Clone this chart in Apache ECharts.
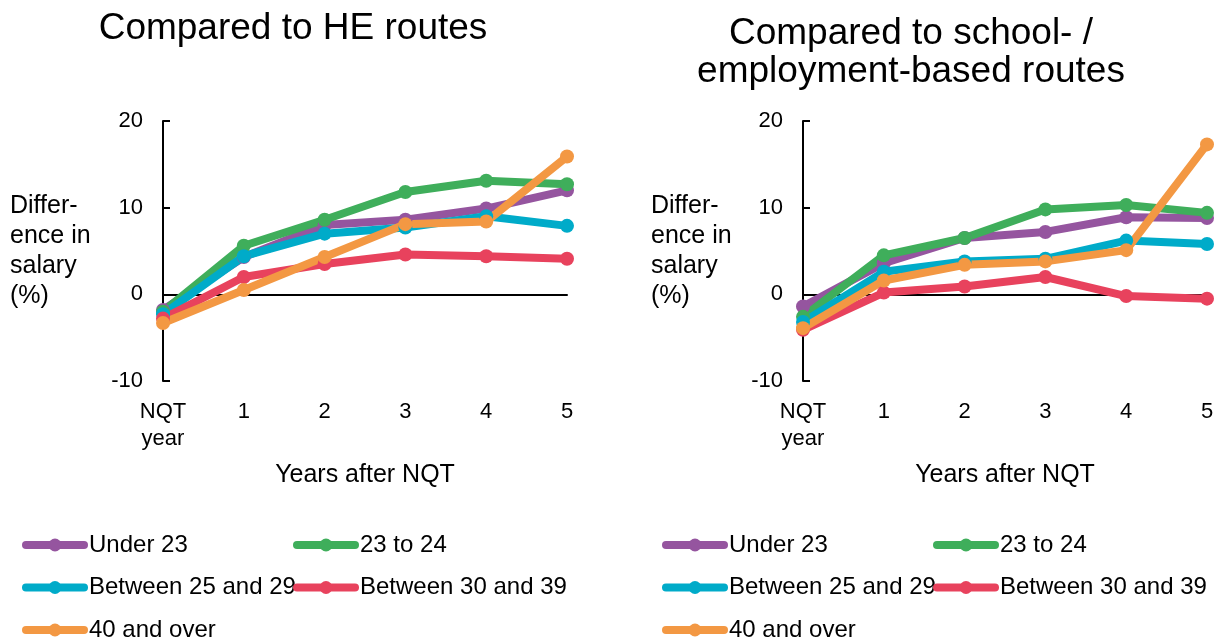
<!DOCTYPE html>
<html>
<head>
<meta charset="utf-8">
<script src="https://cdn.jsdelivr.net/npm/echarts@6/dist/echarts.min.js"></script>
<style>
  html, body { margin: 0; padding: 0; background: #fff; }
  #chart { width: 1222px; height: 640px; }
</style>
</head>
<body>
<div id="chart"></div>
<script>
var categories = ['NQT\nyear', '1', '2', '3', '4', '5'];
var seriesNames = ['Under 23', '23 to 24', 'Between 25 and 29', 'Between 30 and 39', '40 and over'];
var colors = ['#95559f', '#3fae5b', '#00abc9', '#e8425d', '#f39843'];

// compared to HE routes
var heUnder23 = [-1.8, 4.3, 8.0, 8.6, 9.9, 12.0];
var he23to24 = [-2.0, 5.6, 8.6, 11.8, 13.1, 12.7];
var he25to29 = [-2.3, 4.4, 7.0, 7.7, 9.0, 7.9];
var he30to39 = [-2.8, 2.0, 3.5, 4.6, 4.4, 4.1];
var he40over = [-3.3, 0.5, 4.3, 8.1, 8.4, 15.9];

// compared to school- / employment-based routes
var schUnder23 = [-1.4, 3.6, 6.5, 7.2, 8.9, 8.8];
var sch23to24 = [-2.6, 4.5, 6.5, 9.8, 10.3, 9.4];
var sch25to29 = [-3.2, 2.6, 3.8, 4.1, 6.2, 5.8];
var sch30to39 = [-4.1, 0.2, 0.9, 2.0, -0.2, -0.5];
var sch40over = [-3.9, 1.6, 3.4, 3.8, 5.1, 17.3];

var yTicks = [-10, 0, 10, 20];

var FONT = 'Liberation Sans, Arial, sans-serif';
var chart = echarts.init(document.getElementById('chart'));

function labelAxis(grid) {
  return {
    type: 'category',
    gridIndex: grid,
    data: categories,
    boundaryGap: false,
    axisLine: { show: false, onZero: false },
    axisTick: { show: false },
    axisLabel: { fontSize: 22, lineHeight: 27, color: '#000', fontFamily: FONT, margin: 17 },
    name: 'Years after NQT',
    nameLocation: 'middle',
    nameGap: 82,
    nameTextStyle: { fontSize: 25, color: '#000', fontFamily: FONT }
  }
}

function zeroAxis(grid) {
  return {
    type: 'category',
    gridIndex: grid,
    data: categories,
    boundaryGap: false,
    axisLine: { show: true, onZero: true, lineStyle: { color: '#000', width: 2 } },
    axisTick: { show: false },
    axisLabel: { show: false }
  }
}

function valueAxis(grid) {
  return {
    type: 'value',
    gridIndex: grid,
    min: yTicks[0],
    max: yTicks[yTicks.length - 1],
    interval: 10,
    splitLine: { show: false },
    axisLine: { show: true, lineStyle: { color: '#000', width: 2 } },
    axisTick: { show: true, inside: true, length: 7, lineStyle: { color: '#000', width: 2 } },
    axisLabel: { fontSize: 22, color: '#000', fontFamily: FONT, margin: 20 }
  }
}

function makeSeries(data, idx, grid) {
  return {
    name: seriesNames[idx],
    type: 'line',
    xAxisIndex: grid * 2,
    yAxisIndex: grid,
    data: data,
    color: colors[idx],
    symbol: 'circle',
    symbolSize: 14,
    lineStyle: { width: 8, color: colors[idx], cap: 'round', join: 'round' },
    itemStyle: { color: colors[idx] },
    animation: false
  }
}

function legend(left, names) {
  return {
    orient: 'vertical',
    left: left,
    top: 533,
    height: 140,
    padding: 0,
    itemWidth: 58,
    itemHeight: 16,
    itemGap: 18.5,
    data: names,
    textStyle: { fontSize: 24, lineHeight: 24, color: '#000', fontFamily: FONT },
    lineStyle: { width: 8, cap: 'round' }
  }
}

function yName(x) {
  return {
    type: 'text',
    left: x,
    top: 191,
    style: {
      text: 'Differ-\nence in\nsalary\n(%)',
      font: '25px ' + FONT,
      lineHeight: 30,
      fill: '#000'
    }
  }
}

var col1 = [seriesNames[0], seriesNames[2], seriesNames[4]];
var col2 = [seriesNames[1], seriesNames[3]];

chart.setOption({
  title: [
    {
      text: 'Compared to HE routes',
      left: 288, top: 5, textAlign: 'center',
      textStyle: { fontSize: 37, fontWeight: 'normal', color: '#000', fontFamily: FONT }
    },
    {
      text: 'Compared to school- /\nemployment-based routes',
      left: 906, top: 10, textAlign: 'center',
      textStyle: { fontSize: 37, lineHeight: 38, fontWeight: 'normal', color: '#000', fontFamily: FONT }
    }
  ],
  grid: [
    { left: 163, top: 121, width: 404, height: 260 },
    { left: 803, top: 121, width: 404, height: 260 }
  ],
  xAxis: [labelAxis(0), zeroAxis(0), labelAxis(1), zeroAxis(1)],
  yAxis: [valueAxis(0), valueAxis(1)],
  legend: [legend(22, col1), legend(293, col2), legend(662, col1), legend(933, col2)],
  graphic: [yName(10), yName(651)],
  series: [
    makeSeries(heUnder23, 0, 0),
    makeSeries(he23to24, 1, 0),
    makeSeries(he25to29, 2, 0),
    makeSeries(he30to39, 3, 0),
    makeSeries(he40over, 4, 0),
    makeSeries(schUnder23, 0, 1),
    makeSeries(sch23to24, 1, 1),
    makeSeries(sch25to29, 2, 1),
    makeSeries(sch30to39, 3, 1),
    makeSeries(sch40over, 4, 1)
  ]
})
</script>
</body>
</html>
